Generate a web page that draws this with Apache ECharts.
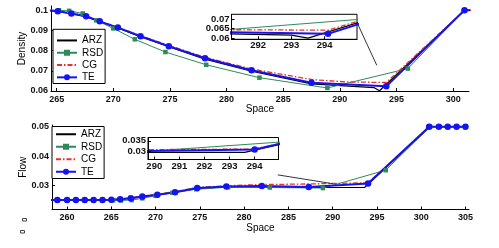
<!DOCTYPE html>
<html><head><meta charset="utf-8">
<script src="https://cdn.jsdelivr.net/npm/echarts@6/dist/echarts.min.js"></script>
<style>html,body{margin:0;padding:0;background:#fff}#c{width:499px;height:248px}</style>
</head><body><div id="c"></div>
<script>
// ---------- Density (top panel) ----------
const densTE_x  = [264, 265.1, 266.3, 267.6, 268.8, 270.4, 272.4, 274.9, 278.1, 282.2, 287.5, 294.1, 301.0, 302];
const densTE_y  = [0.1, 0.0995, 0.0984, 0.097, 0.0945, 0.0914, 0.0871, 0.0822, 0.0762, 0.0703, 0.0641, 0.0623, 0.1, 0.1];
const densARZ_x = [264, 265.1, 266.3, 267.6, 268.8, 270.4, 272.4, 274.9, 278.1, 282.2, 287.5, 293.0, 293.5, 301.0, 302];
const densARZ_y = [0.1, 0.0995, 0.0983, 0.0968, 0.0943, 0.0912, 0.0869, 0.0819, 0.0758, 0.0698, 0.0635, 0.0617, 0.0601, 0.1, 0.1];
const densRSD_x = [264, 265.2, 266.1, 267.3, 268.5, 270.0, 271.9, 274.6, 278.2, 282.9, 288.9, 296.0, 301.0, 302];
const densRSD_y = [0.1, 0.1, 0.0997, 0.0984, 0.095, 0.091, 0.0856, 0.0793, 0.073, 0.0666, 0.0615, 0.0711, 0.1, 0.1];
const densCG_x  = [264, 265.1, 266.3, 267.6, 268.8, 270.4, 272.4, 274.9, 278.1, 282.2, 287.5, 290.5, 294.1, 301.0, 302];
const densCG_y  = [0.1, 0.0996, 0.0985, 0.0971, 0.0946, 0.0916, 0.0874, 0.0826, 0.0767, 0.0709, 0.0657, 0.0645, 0.0642, 0.1, 0.1];

// ---------- Flow (bottom panel) ----------
const flowTE_x  = [258, 258.9, 260, 261, 262, 263, 264, 265, 266, 267.2, 268.5, 270.2, 272.2, 274.7, 278.0, 282.0, 287.3, 294.0, 300.9, 302, 303, 304, 305];
const flowTE_y  = [0.025, 0.025, 0.025, 0.025, 0.025, 0.025, 0.025, 0.0251, 0.0253, 0.0256, 0.0262, 0.0268, 0.0277, 0.0291, 0.0296, 0.0298, 0.0295, 0.0307, 0.05, 0.05, 0.05, 0.05, 0.05];
const flowARZ_x = [258, 265, 266, 267.2, 268.5, 270.2, 272.2, 274.7, 278.0, 282.0, 287.3, 293.6, 301.0, 305];
const flowARZ_y = [0.025, 0.025, 0.0253, 0.0256, 0.0262, 0.0268, 0.0277, 0.029, 0.0295, 0.0296, 0.0293, 0.0293, 0.05, 0.05];
const flowRSD_x = [258, 258.9, 260, 261, 262, 263, 264, 265.2, 266.1, 267.3, 268.5, 270.0, 271.9, 274.6, 278.2, 282.9, 288.9, 296.0, 301.0, 302, 303, 304, 305];
const flowRSD_y = [0.025, 0.025, 0.025, 0.025, 0.025, 0.025, 0.025, 0.0249, 0.0249, 0.025, 0.0256, 0.0265, 0.0275, 0.0287, 0.0294, 0.0293, 0.0291, 0.0352, 0.05, 0.05, 0.05, 0.05, 0.05];
const flowCG_x  = [258, 265, 266, 267.2, 268.5, 270.2, 272.2, 274.7, 278.0, 282.0, 287.3, 294.0, 301.0, 305];
const flowCG_y  = [0.025, 0.0251, 0.0254, 0.0258, 0.0264, 0.027, 0.0279, 0.0293, 0.0299, 0.0303, 0.0305, 0.0309, 0.05, 0.05];

// ---------- tick labels ----------
const densXTicks = [265, 270, 275, 280, 285, 290, 295, 300];
const densYTicks = [0.06, 0.07, 0.08, 0.09, 0.1];
const flowXTicks = [260, 265, 270, 275, 280, 285, 290, 295, 300, 305];
const flowYTicks = [0.03, 0.04, 0.05];
const insDensXTicks = [292, 293, 294];
const insDensYTicks = [0.06, 0.065, 0.07];
const insFlowXTicks = [290, 291, 292, 293, 294];
const insFlowYTicks = [0.03, 0.035];
const seriesNames = ['ARZ', 'RSD', 'CG', 'TE'];

// ---------- zoom connector annotations (data units) ----------
const densConnX = [291.5, 293.26];
const densConnY = [0.0941, 0.0727];
const flowConnX = [283.8, 290.0];
const flowConnY = [0.0336, 0.0306];

const zip = (xs, ys) => xs.map((x, i) => [x, ys[i]]);
const FONT = 'Liberation Sans, Arial, sans-serif';

const styles = {
  ARZ: {color: '#000000', lineStyle: {color: '#000000', width: 1.2}, symbol: 'none', symbolSize: 0},
  RSD: {color: '#2e8b57', lineStyle: {color: '#2e8b57', width: 1}, symbol: 'rect', symbolSize: 4.5},
  CG:  {color: '#e8312f', lineStyle: {color: '#e8312f', width: 1.3, type: [5, 2, 1.5, 2]}, symbol: 'none', symbolSize: 0},
  TE:  {color: '#1414f0', lineStyle: {color: '#1414f0', width: 2}, symbol: 'circle', symbolSize: 6.5}
};

function mk(name, data, gi, z) {
  const s = styles[name];
  return {
    type: 'line', name: name, data: data, xAxisIndex: gi, yAxisIndex: gi,
    symbol: s.symbol, symbolSize: s.symbolSize, showSymbol: s.symbol !== 'none',
    lineStyle: s.lineStyle, itemStyle: {color: s.color}, z: z, clip: true,
    animation: false, silent: true
  };
}

function xAx(gi, min, max, ticks, opts) {
  return Object.assign({
    type: 'value', gridIndex: gi, min: min, max: max,
    axisLine: {show: true, onZero: false, lineStyle: {color: '#000', width: 1}},
    axisTick: {show: true, inside: true, length: 3, customValues: ticks, lineStyle: {color: '#000'}},
    axisLabel: {customValues: ticks, color: '#111', fontSize: 9, fontWeight: 'bold', fontFamily: FONT, margin: 4,
      showMinLabel: true, showMaxLabel: true, hideOverlap: false},
    splitLine: {show: false}
  }, opts || {});
}
function yAx(gi, min, max, ticks, opts) {
  return Object.assign({
    type: 'value', gridIndex: gi, min: min, max: max,
    axisLine: {show: true, onZero: false, lineStyle: {color: '#000', width: 1}},
    axisTick: {show: true, inside: true, length: 3, customValues: ticks, lineStyle: {color: '#000'}},
    axisLabel: {customValues: ticks, color: '#111', fontSize: 9, fontWeight: 'bold', fontFamily: FONT, margin: 3,
      showMinLabel: true, showMaxLabel: true, hideOverlap: false},
    splitLine: {show: false}
  }, opts || {});
}

const dens = {ARZ: zip(densARZ_x, densARZ_y), RSD: zip(densRSD_x, densRSD_y), CG: zip(densCG_x, densCG_y), TE: zip(densTE_x, densTE_y)};
const flow = {ARZ: zip(flowARZ_x, flowARZ_y), RSD: zip(flowRSD_x, flowRSD_y), CG: zip(flowCG_x, flowCG_y), TE: zip(flowTE_x, flowTE_y)};

const series = [];
seriesNames.forEach(n => series.push(mk(n, dens[n], 0, 3)));
seriesNames.forEach(n => series.push(mk(n, flow[n], 1, 3)));
seriesNames.forEach(n => series.push(mk(n, dens[n], 2, 12)));
seriesNames.forEach(n => series.push(mk(n, flow[n], 3, 12)));
series.push({type: 'line', data: zip(densConnX, densConnY), xAxisIndex: 0, yAxisIndex: 0, symbol: 'none',
  lineStyle: {color: '#000', width: 0.8}, z: 4, silent: true, animation: false, clip: false});
series.push({type: 'line', data: zip(flowConnX, flowConnY), xAxisIndex: 1, yAxisIndex: 1, symbol: 'none',
  lineStyle: {color: '#000', width: 0.8}, z: 4, silent: true, animation: false, clip: false});

const insetLabel = {fontSize: 9.5, fontWeight: 'bold', color: '#111', fontFamily: FONT, lineHeight: 7,
  showMinLabel: true, showMaxLabel: true, hideOverlap: false};

// inset density y labels: outer ticks on one axis, middle tick label on a second (label-only) axis
const insDensYOuter = insDensYTicks.filter((v, i) => i !== 1);
const insDensYMiddle = insDensYTicks.filter((v, i) => i === 1);

const legendData = seriesNames.map(n => styles[n].symbol === 'none'
  ? {name: n, itemStyle: {opacity: 0}} : {name: n});

function legendAt(left, top, pad, lh) {
  return {
    left: left, top: top, orient: 'vertical', data: legendData, itemWidth: 20, itemHeight: 7.5, itemGap: 0,
    padding: pad, borderColor: '#000', borderWidth: 1, backgroundColor: '#fff',
    textStyle: {fontSize: 10, fontFamily: FONT, color: '#000', lineHeight: lh}, selectedMode: false, z: 20
  };
}

const nameStyle = {fontSize: 10, fontFamily: FONT, color: '#000'};

const option = {
  animation: false,
  backgroundColor: '#fff',
  grid: [
    {left: 51, top: 6, width: 418, height: 85},
    {left: 52, top: 125, width: 417, height: 84.5},
    {left: 231.5, top: 14.3, width: 125.5, height: 25, show: true, backgroundColor: '#fff', borderColor: '#000', borderWidth: 1, z: 10},
    {left: 148, top: 137.5, width: 130.5, height: 22, show: true, backgroundColor: '#fff', borderColor: '#000', borderWidth: 1, z: 10}
  ],
  xAxis: [
    xAx(0, 264.5, 301.4, densXTicks, {name: 'Space', nameLocation: 'middle', nameGap: 13, nameMoveOverlap: false, nameTextStyle: nameStyle}),
    xAx(1, 258.3, 305.4, flowXTicks, {name: 'Space', nameLocation: 'middle', nameGap: 13.5, nameMoveOverlap: false, nameTextStyle: nameStyle}),
    xAx(2, 291.2, 294.97, insDensXTicks, {z: 13, axisLabel: Object.assign({customValues: insDensXTicks, margin: 3}, insetLabel)}),
    xAx(3, 289.75, 294.95, insFlowXTicks, {z: 13, axisLabel: Object.assign({customValues: insFlowXTicks, margin: 3}, insetLabel)})
  ],
  yAxis: [
    yAx(0, 0.06, 0.1021, densYTicks, {name: 'Density', nameLocation: 'middle', nameGap: 23.5, nameMoveOverlap: false, nameTextStyle: nameStyle}),
    yAx(1, 0.0218, 0.0506, flowYTicks, {name: 'Flow', nameLocation: 'middle', nameGap: 23.5, nameMoveOverlap: false, nameTextStyle: nameStyle}),
    yAx(2, 0.0595, 0.0724, insDensYOuter, {z: 13,
      axisTick: {show: true, inside: true, length: 3, customValues: insDensYTicks, lineStyle: {color: '#000'}},
      axisLabel: Object.assign({customValues: insDensYOuter, margin: 2}, insetLabel)}),
    yAx(3, 0.0258, 0.0366, insFlowYTicks, {z: 13, axisLabel: Object.assign({customValues: insFlowYTicks, margin: 2}, insetLabel)}),
    yAx(2, 0.0595, 0.0724, insDensYMiddle, {z: 13, position: 'left', offset: 0,
      axisLine: {show: false}, axisTick: {show: false},
      axisLabel: Object.assign({customValues: insDensYMiddle, margin: 2}, insetLabel)})
  ],
  legend: [
    legendAt(53, 29.3, [5, 2, 0, 3], 12.3),
    legendAt(52, 126.5, [1.5, 2, 0.5, 3], 12.5)
  ],
  graphic: [
    {type: 'rect', shape: {x: 22.5, y: 218.5, width: 4, height: 2.5}, style: {fill: '#fff', stroke: '#444', lineWidth: 1}},
    {type: 'rect', shape: {x: 20.5, y: 230.5, width: 4, height: 2.5}, style: {fill: '#fff', stroke: '#444', lineWidth: 1}}
  ],
  series: series
};

const chart = echarts.init(document.getElementById('c'), null, {renderer: 'canvas'});
chart.setOption(option);
</script>
</body></html>
